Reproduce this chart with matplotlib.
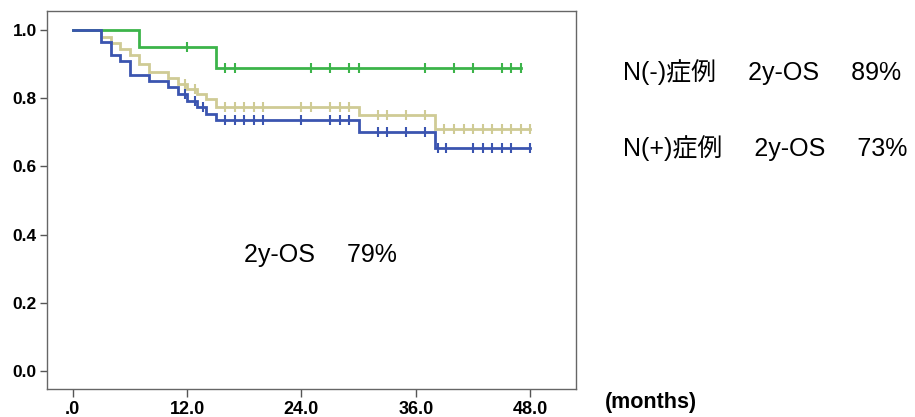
#!/usr/bin/env python3
"""
Kaplan-Meier overall survival: all cases vs N(-) / N(+) subgroups.
"""

import matplotlib
matplotlib.use('Agg')
import matplotlib.pyplot as plt

# ── Global style ─────────────────────────────────────────────────────────────
plt.rcParams.update({
    'font.family': ['Liberation Sans', 'Noto Sans CJK JP', 'DejaVu Sans'],
    'axes.facecolor': 'white',
    'figure.facecolor': 'white',
})

OUT = 'out.png'

# ── Data ─────────────────────────────────────────────────────────────────────
# N(-) cases
neg_times = [0, 7, 15]
neg_surv = [1.0, 0.949, 0.890]
neg_censor = [12, 16, 17, 25, 27, 29, 30, 37, 40, 42, 45, 46, 47]

# N(+) cases
pos_times = [0, 3, 4, 5, 6, 8, 10, 11, 12, 13, 14, 15, 30, 38]
pos_surv = [1.0, 0.966, 0.928, 0.908, 0.869, 0.852, 0.833, 0.813,
            0.793, 0.775, 0.755, 0.735, 0.700, 0.655]
pos_censor = [11.8, 12.8, 13.7, 16, 17, 18, 19, 20, 24, 27, 28, 29,
              32, 33, 35, 37, 38.3, 39.2, 42, 43, 44, 45, 46, 48]

# All cases
all_times = [0, 3, 4, 5, 6, 7, 8, 10, 11, 12, 13, 14, 15, 30, 38]
all_surv = [1.0, 0.980, 0.963, 0.945, 0.928, 0.901, 0.876, 0.860, 0.843,
            0.826, 0.812, 0.797, 0.775, 0.751, 0.711]
all_censor = [11.8, 12.8, 16, 17, 18, 19, 20, 24, 25, 27, 28, 29, 32, 33,
              35, 37, 39, 40, 41, 42, 43, 44, 45, 46, 47, 48]

x_ticks = [0, 12, 24, 36, 48]
x_tick_labels = ['.0', '12.0', '24.0', '36.0', '48.0']
y_ticks = [0.0, 0.2, 0.4, 0.6, 0.8, 1.0]
y_tick_labels = ['0.0', '0.2', '0.4', '0.6', '0.8', '1.0']

label_neg = 'N(-)症例\u3000 2y-OS\u3000 89%'
label_pos = 'N(+)症例\u3000 2y-OS\u3000 73%'
label_all = '2y-OS\u3000 79%'

COLORS = {
    'all': '#CFCB95',
    'neg': '#3CB44A',
    'pos': '#3B55B0',
}


def level_at(times, surv, t):
    """Survival level of a right-continuous step curve at time t."""
    s = surv[0]
    for ti, si in zip(times, surv):
        if ti <= t:
            s = si
    return s


def km_curve(ax, times, surv, censor, color, z):
    end = max(censor)
    xs = list(times) + [end]
    ys = list(surv) + [surv[-1]]
    ax.step(xs, ys, where='post', color=color, linewidth=2.0,
            solid_joinstyle='miter', zorder=z)
    cy = [level_at(times, surv, c) for c in censor]
    ax.plot(censor, cy, linestyle='none', marker='|', markersize=7.5,
            markeredgewidth=1.5, color=color, zorder=z)


def main():
    fig = plt.figure(figsize=(9.15, 4.17), dpi=100)
    ax = fig.add_axes([0.051, 0.0671, 0.5785, 0.9065])

    # ── Curves ──────────────────────────────────────────────────────────────
    km_curve(ax, neg_times, neg_surv, neg_censor, COLORS['neg'], 3)
    km_curve(ax, all_times, all_surv, all_censor, COLORS['all'], 2)
    km_curve(ax, pos_times, pos_surv, pos_censor, COLORS['pos'], 4)

    # ── Axes ────────────────────────────────────────────────────────────────
    ax.set_xlim(-2.73, 52.8)
    ax.set_ylim(-0.053, 1.056)
    ax.set_xticks(x_ticks)
    ax.set_xticklabels(x_tick_labels, fontsize=13, fontweight='bold')
    ax.set_yticks(y_ticks)
    ax.set_yticklabels(y_tick_labels, fontsize=12.5, fontweight='bold')
    ax.tick_params(direction='out', length=5, width=1, color='#555555',
                   pad=2)
    ax.tick_params(axis='x', length=6, pad=2.5)
    for sp in ax.spines.values():
        sp.set_color('#666666')
        sp.set_linewidth(1.0)

    # ── Annotations ─────────────────────────────────────────────────────────
    ax.text(18.0, 0.34, label_all, fontsize=18, ha='left', va='center')
    fig.text(0.681, 0.827, label_neg, fontsize=18, ha='left', va='center')
    fig.text(0.681, 0.645, label_pos, fontsize=18, ha='left', va='center')
    fig.text(0.661, 0.034, '(months)', fontsize=15.5, fontweight='bold',
             ha='left', va='center')

    fig.savefig(OUT, dpi=100, facecolor='white')
    plt.close(fig)


if __name__ == '__main__':
    main()
